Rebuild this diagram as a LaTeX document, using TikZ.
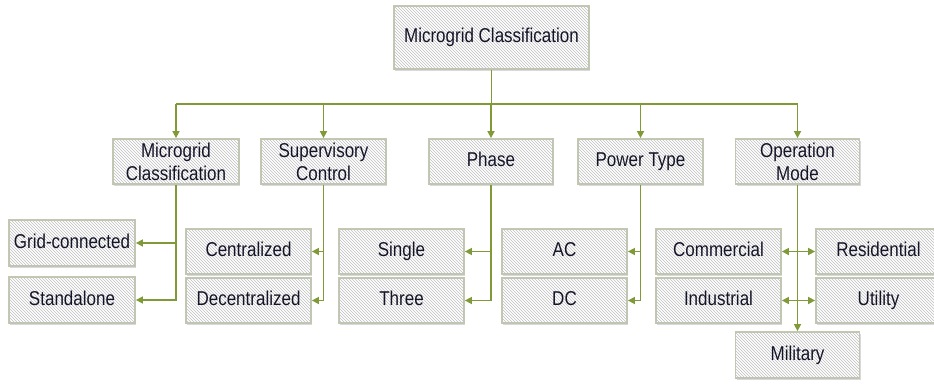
\documentclass[tikz,border=0pt]{standalone}
\usepackage{fontspec}
\setmainfont{Liberation Sans}[FakeStretch=0.85]
\usetikzlibrary{arrows.meta,patterns,shadows}
\definecolor{conncol}{RGB}{128,154,56}
\definecolor{boxborder}{RGB}{194,201,176}
\definecolor{txtcol}{RGB}{20,20,40}
\tikzset{
  box/.style={draw=boxborder, line width=1.8pt, fill=white,
    preaction={fill=white},
    postaction={pattern=north west lines, pattern color=black!25},
    drop shadow={shadow xshift=1.2pt, shadow yshift=-1.5pt, fill=black!25, opacity=0.6},
    inner sep=0pt, align=center, text=txtcol,
    font=\fontsize{20}{23}\selectfont, minimum width=125pt, minimum height=45pt},
  one/.style={text height=15pt, text depth=5pt},
  conn/.style={draw=conncol, line width=1.6pt},
  arr/.style={conn, -{Triangle[length=7pt,width=7pt]}},
  darr/.style={conn, {Triangle[length=7pt,width=7pt]}-{Triangle[length=7pt,width=7pt]}}
}
\begin{document}
\begin{tikzpicture}[x=1pt,y=-1pt]
\useasboundingbox (0,0) rectangle (934,383);
% top
\node[box, one, minimum width=195pt, minimum height=63pt] (top) at (491.5,37.5) {Microgrid Classification};
% level 2
\node[box, minimum width=126pt] (m1) at (176,161.5) {Microgrid\\Classification};
\node[box] (m2) at (323.5,161.5) {Supervisory\\Control};
\node[box, one, minimum width=124pt] (m3) at (491,161.5) {Phase};
\node[box, one] (m4) at (640.5,161.5) {Power Type};
\node[box, minimum width=124pt] (m5) at (797.5,161.5) {Operation\\Mode};
% level 3
\node[box, one, minimum width=126pt, minimum height=46pt] (gc) at (72,243) {Grid-connected};
\node[box, one, minimum width=126pt, minimum height=46pt] (sa) at (72,300) {Standalone};
\node[box, one] (cen) at (248.5,251.5) {Centralized};
\node[box, one] (dec) at (248.5,300.5) {Decentralized};
\node[box, one] (sgl) at (401.5,251.5) {Single};
\node[box, one] (thr) at (401.5,300.5) {Three};
\node[box, one] (ac) at (564.5,251.5) {AC};
\node[box, one] (dc) at (564.5,300.5) {DC};
\node[box, one] (com) at (718.5,251.5) {Commercial};
\node[box, one] (ind) at (718.5,300.5) {Industrial};
\node[box, one] (res) at (878.5,251.5) {Residential};
\node[box, one] (utl) at (878.5,300.5) {Utility};
\node[box, one, minimum width=124pt, minimum height=46pt] (mil) at (797.5,355) {Military};
% connectors
\coordinate (bus) at (491.5,104);
\draw[conn] (top.south) -- (bus);
\draw[conn] (176,104) -- (797.5,104);
\foreach \m in {m1,m2,m3,m4,m5}{
  \draw[arr] (bus -| \m.north) -- (\m.north);
}
\draw[arr] (m1.south) |- (gc.east);
\draw[arr] (m1.south) |- (sa.east);
\draw[arr] (m2.south) |- (cen.east);
\draw[arr] (m2.south) |- (dec.east);
\draw[arr] (m3.south) |- (sgl.east);
\draw[arr] (m3.south) |- (thr.east);
\draw[arr] (m4.south) |- (ac.east);
\draw[arr] (m4.south) |- (dc.east);
\draw[arr] (m5.south) -- (mil.north);
\draw[darr] (com.east) -- (res.west);
\draw[darr] (ind.east) -- (utl.west);
\end{tikzpicture}
\end{document}
